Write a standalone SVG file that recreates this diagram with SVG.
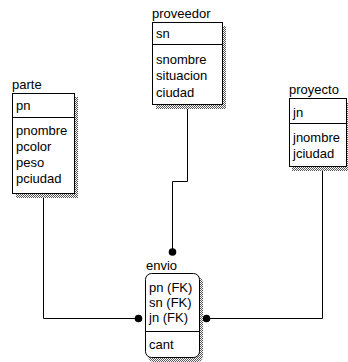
<svg xmlns="http://www.w3.org/2000/svg" width="348" height="362" viewBox="0 0 348 362">
  <style>
    text { font-family: "Liberation Sans", Arial, sans-serif; font-size: 13px; fill: #000; }
    .box { fill: #fff; stroke: #000; stroke-width: 1; }
    .div { stroke: #000; stroke-width: 1; }
    .shadow { fill: url(#dither); }
    .conn { fill: none; stroke: #000; stroke-width: 1; }
    .dot { fill: #000; }
  </style>
  <defs>
    <pattern id="dither" width="2" height="2" patternUnits="userSpaceOnUse">
      <rect width="2" height="2" fill="#fff"/>
      <rect width="1" height="1" fill="#555"/>
      <rect x="1" y="1" width="1" height="1" fill="#555"/>
    </pattern>
  </defs>

  <rect width="348" height="362" fill="#fff"/>

  <g id="connectors">
    <path class="conn" d="M43.5,194 V318.5 H138"/>
    <path class="conn" d="M187.5,105 V181.5 H172.5 V252"/>
    <path class="conn" d="M322.5,167 V318.5 H207"/>
    <circle class="dot" cx="172.5" cy="252" r="3.8"/>
    <circle class="dot" cx="138.5" cy="318.5" r="3.8"/>
    <circle class="dot" cx="206.5" cy="318.5" r="3.8"/>
  </g>

  <g id="parte">
    <rect class="shadow" x="16" y="97" width="62" height="101"/>
    <rect class="box" x="12.5" y="93.5" width="62" height="100"/>
    <line class="div" x1="12.5" y1="117.5" x2="74.5" y2="117.5"/>
    <text x="12" y="89">parte</text>
    <text x="16" y="110">pn</text>
    <text x="16" y="135">pnombre</text>
    <text x="16" y="151">pcolor</text>
    <text x="16" y="167">peso</text>
    <text x="16" y="183">pciudad</text>
  </g>

  <g id="proveedor">
    <rect class="shadow" x="156" y="26" width="70" height="83"/>
    <rect class="box" x="152.5" y="22.5" width="70" height="82"/>
    <line class="div" x1="152.5" y1="44.5" x2="222.5" y2="44.5"/>
    <text x="152" y="18">proveedor</text>
    <text x="156" y="38">sn</text>
    <text x="156" y="64">snombre</text>
    <text x="156" y="80">situacion</text>
    <text x="156" y="97">ciudad</text>
  </g>

  <g id="proyecto">
    <rect class="shadow" x="292" y="102" width="60" height="69"/>
    <rect class="box" x="289.5" y="98.5" width="57" height="68"/>
    <line class="div" x1="289.5" y1="123.5" x2="346.5" y2="123.5"/>
    <text x="289" y="94">proyecto</text>
    <text x="293" y="117">jn</text>
    <text x="293" y="142">jnombre</text>
    <text x="293" y="158">jciudad</text>
  </g>

  <g id="envio">
    <rect class="shadow" x="148" y="277" width="55" height="85" rx="6"/>
    <rect class="box" x="145.5" y="273.5" width="54" height="84" rx="6"/>
    <line class="div" x1="145.5" y1="331.5" x2="199.5" y2="331.5"/>
    <text x="146" y="270">envio</text>
    <text x="149" y="292">pn (FK)</text>
    <text x="149" y="307">sn (FK)</text>
    <text x="149" y="322">jn (FK)</text>
    <text x="149" y="349">cant</text>
  </g>
</svg>
